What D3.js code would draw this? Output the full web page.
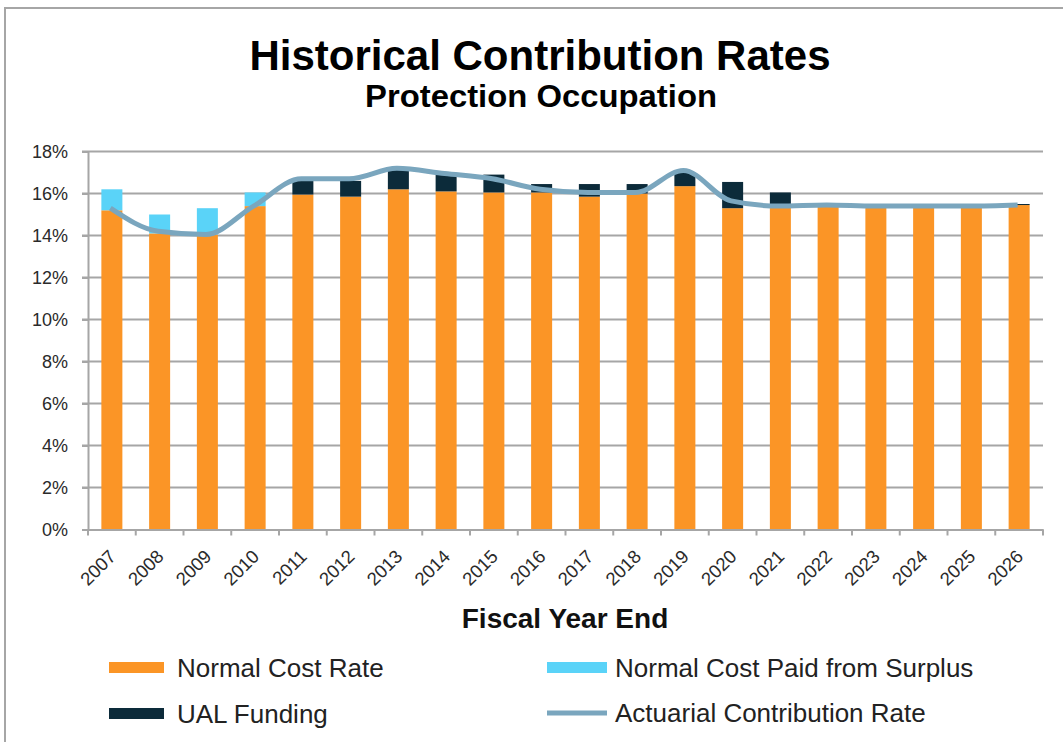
<!DOCTYPE html>
<html>
<head>
<meta charset="utf-8">
<script src="https://cdn.jsdelivr.net/npm/d3@7"></script>
<style>
html,body{margin:0;padding:0;background:#fff;}
svg{display:block;font-family:"Liberation Sans",Arial,sans-serif;}
</style>
</head>
<body>
<svg id="chart" width="1063" height="742"></svg>
<script>
const years = ["2007","2008","2009","2010","2011","2012","2013","2014","2015","2016","2017","2018","2019","2020","2021","2022","2023","2024","2025","2026"];
const normalCost = [15.2,14.1,14.05,15.4,15.95,15.85,16.2,16.1,16.05,16.05,15.85,16.0,16.35,15.3,15.4,15.4,15.4,15.4,15.4,15.45];
const surplus    = [1.0,0.9,1.25,0.65,0,0,0,0,0,0,0,0,0,0,0,0,0,0,0,0];
const ualFunding = [0,0,0,0,0.75,0.75,0.95,0.8,0.85,0.4,0.6,0.45,0.65,1.25,0.65,0,0,0,0,0.05];
const actuarial  = [15.3,14.2,14.05,15.4,16.7,16.7,17.2,16.95,16.7,16.2,16.05,16.05,17.1,15.65,15.4,15.45,15.4,15.4,15.4,15.45];
const yTicks = [0,2,4,6,8,10,12,14,16,18];
const seriesNames = ["Normal Cost Rate","Normal Cost Paid from Surplus","UAL Funding","Actuarial Contribution Rate"];
const colors = {normal:"#fb9526", surplus:"#5ad3f8", ual:"#0c2b3a", line:"#7aa6be"};

const svg = d3.select("#chart");
const W = 1063, H = 742;
const pLeft = 88, pRight = 1043, pTop = 151.5, pBottom = 529.5;

// outer frame
svg.append("rect").attr("x",5).attr("y",8).attr("width",W+10).attr("height",H+10)
  .attr("fill","#fff").attr("stroke","#a6a6a6").attr("stroke-width",2);

const x = d3.scaleBand().domain(years).range([pLeft,pRight]).paddingInner(0.56).paddingOuter(0.28);
const xb = d3.scaleBand().domain(years).range([pLeft,pRight]);
const y = d3.scaleLinear().domain([0,18]).range([pBottom,pTop]);

// gridlines
svg.append("g").selectAll("line").data(yTicks.filter(d=>d>0)).join("line")
  .attr("x1",pLeft-6).attr("x2",pRight).attr("y1",d=>y(d)).attr("y2",d=>y(d))
  .attr("stroke","#a6a6a6").attr("stroke-width",2);

// y axis
const yAxis = svg.append("g").attr("transform",`translate(${pLeft},0)`)
  .call(d3.axisLeft(y).tickValues(yTicks).tickFormat(d=>d+"%").tickSize(6).tickPadding(14));
yAxis.select(".domain").attr("stroke","#a6a6a6").attr("stroke-width",2);
yAxis.selectAll(".tick line").attr("stroke","#a6a6a6").attr("stroke-width",2);
yAxis.selectAll("text").attr("font-size",18).attr("fill","#2a2a2a").attr("font-family","Liberation Sans, Arial, sans-serif");

// stacked bars
const rows = years.map((yr,i)=>({year:yr, normal:normalCost[i], surplus:surplus[i], ual:ualFunding[i]}));
const stack = d3.stack().keys(["normal","surplus","ual"])(rows);
svg.append("g").selectAll("g").data(stack).join("g")
  .attr("fill",d=>colors[d.key])
  .selectAll("rect").data(d=>d).join("rect")
  .attr("x",d=>x(d.data.year)).attr("width",x.bandwidth())
  .attr("y",d=>y(d[1])).attr("height",d=>y(d[0])-y(d[1]));

// x axis
const xAxis = svg.append("g").attr("transform",`translate(0,${pBottom})`)
  .call(d3.axisBottom(xb).tickSize(0).tickFormat(""));
xAxis.select(".domain").attr("stroke","#a6a6a6").attr("stroke-width",2);
// category boundary ticks
svg.append("g").selectAll("line").data(d3.range(years.length+1)).join("line")
  .attr("x1",i=>pLeft+i*xb.step()).attr("x2",i=>pLeft+i*xb.step())
  .attr("y1",pBottom).attr("y2",pBottom+6).attr("stroke","#a6a6a6").attr("stroke-width",2);
// rotated labels
svg.append("g").selectAll("text").data(years).join("text")
  .attr("transform",d=>`translate(${xb(d)+xb.bandwidth()/2-4},${pBottom+19}) rotate(-45)`)
  .attr("text-anchor","end").attr("dy","0.7em")
  .attr("font-size",18.5).attr("fill","#2a2a2a").text(d=>d);

// line
const line = d3.line().x((d,i)=>xb(years[i])+xb.bandwidth()/2 - 1.5).y(d=>y(d)).curve(d3.curveMonotoneX);
svg.append("path").datum(actuarial).attr("d",line)
  .attr("fill","none").attr("stroke",colors.line).attr("stroke-width",5).attr("stroke-linejoin","round");

// titles
svg.append("text").attr("x",540).attr("y",70).attr("text-anchor","middle")
  .attr("font-size",42).attr("font-weight","bold").attr("fill","#000").text("Historical Contribution Rates");
svg.append("text").attr("x",541).attr("y",107).attr("text-anchor","middle")
  .attr("font-size",32).attr("font-weight","bold").attr("fill","#000")
  .attr("textLength",352).attr("lengthAdjust","spacingAndGlyphs").text("Protection Occupation");
svg.append("text").attr("x",565).attr("y",628).attr("text-anchor","middle")
  .attr("font-size",28).attr("font-weight","bold").attr("fill","#111").text("Fiscal Year End");

// legend
const legendItems = [
  {name:seriesNames[0], type:"rect", color:colors.normal, x:109, y:668},
  {name:seriesNames[1], type:"rect", color:colors.surplus, x:547, y:668},
  {name:seriesNames[2], type:"rect", color:colors.ual, x:109, y:714},
  {name:seriesNames[3], type:"line", color:colors.line, x:547, y:713}
];
const lg = svg.append("g").selectAll("g").data(legendItems).join("g");
lg.filter(d=>d.type==="rect").append("rect")
  .attr("x",d=>d.x).attr("y",d=>d.y-6).attr("width",d=>d.x<300?55:60).attr("height",11).attr("fill",d=>d.color);
lg.filter(d=>d.type==="line").append("line")
  .attr("x1",d=>d.x).attr("x2",d=>d.x+60).attr("y1",d=>d.y).attr("y2",d=>d.y)
  .attr("stroke",d=>d.color).attr("stroke-width",5);
lg.append("text").attr("x",d=>d.x<300?177:615).attr("y",d=>d.y+9)
  .attr("font-size",26).attr("fill","#222").text(d=>d.name);
</script>
</body>
</html>
